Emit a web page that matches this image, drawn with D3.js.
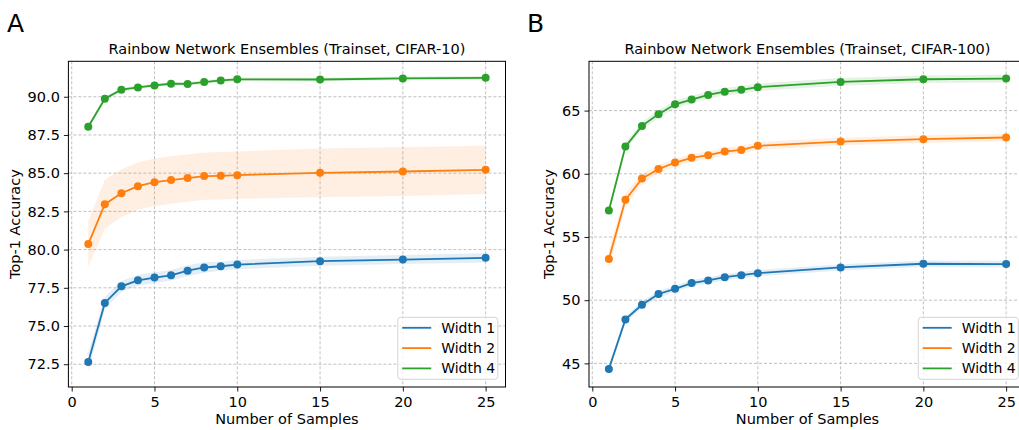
<!DOCTYPE html>
<html>
<head>
<meta charset="utf-8">
<script src="https://cdn.jsdelivr.net/npm/d3@7"></script>
<style>
  body { margin: 0; background: #fff; }
  svg { display: block; font-family: "DejaVu Sans", sans-serif; }
</style>
</head>
<body>
<div class="graph"></div>
<script>
let w = 1019;
let h = 430;

// samples on the x axis
let samples = [1, 2, 3, 4, 5, 6, 7, 8, 9, 10, 15, 20, 25];
let seriesNames = ["Width 1", "Width 2", "Width 4"];
let colors = ["#1f77b4", "#ff7f0e", "#2ca02c"];

// CIFAR-10 means and std
let c10w1 = [72.65, 76.51, 77.6, 77.99, 78.17, 78.32, 78.62, 78.83, 78.91, 79.02, 79.24, 79.35, 79.46];
let c10w2 = [80.36, 82.97, 83.69, 84.15, 84.41, 84.55, 84.68, 84.81, 84.83, 84.87, 85.02, 85.11, 85.22];
let c10w4 = [88.04, 89.87, 90.46, 90.61, 90.74, 90.85, 90.84, 90.96, 91.07, 91.14, 91.13, 91.2, 91.24];
let c10w1sd = [0.6, 0.4, 0.35, 0.35, 0.35, 0.35, 0.35, 0.35, 0.3, 0.3, 0.3, 0.3, 0.3];
let c10w2sd = [1.5, 1.6, 1.55, 1.55, 1.55, 1.55, 1.55, 1.55, 1.55, 1.55, 1.6, 1.6, 1.58];
let c10w4sd = [0.15, 0.15, 0.12, 0.12, 0.12, 0.12, 0.12, 0.12, 0.12, 0.12, 0.12, 0.12, 0.12];

// CIFAR-100 means and std
let c100w1 = [44.56, 48.48, 49.64, 50.49, 50.9, 51.35, 51.56, 51.82, 51.98, 52.14, 52.59, 52.88, 52.86];
let c100w2 = [53.25, 57.94, 59.62, 60.37, 60.89, 61.26, 61.47, 61.76, 61.89, 62.21, 62.55, 62.74, 62.87];
let c100w4 = [57.1, 62.15, 63.79, 64.72, 65.5, 65.87, 66.24, 66.5, 66.64, 66.85, 67.27, 67.48, 67.53];
let c100w1sd = [0.3, 0.25, 0.25, 0.25, 0.25, 0.25, 0.25, 0.25, 0.25, 0.25, 0.25, 0.25, 0.25];
let c100w2sd = [0.8, 0.5, 0.4, 0.35, 0.3, 0.3, 0.3, 0.3, 0.3, 0.3, 0.3, 0.3, 0.3];
let c100w4sd = [0.3, 0.3, 0.3, 0.3, 0.3, 0.3, 0.3, 0.3, 0.3, 0.3, 0.3, 0.3, 0.3];

let xTicks = [0, 5, 10, 15, 20, 25];
let yTicksA = [72.5, 75.0, 77.5, 80.0, 82.5, 85.0, 87.5, 90.0];
let yTicksB = [45, 50, 55, 60, 65];

let panels = [
  {
    letter: "A",
    title: "Rainbow Network Ensembles (Trainset, CIFAR-10)",
    means: [c10w1, c10w2, c10w4],
    sds: [c10w1sd, c10w2sd, c10w4sd],
    yDomain: [71.01, 92.32],
    yTicks: yTicksA,
    yFmt: d3.format(".1f"),
    left: 68.4,
    right: 505.5,
    letterX: 7,
    ylabelX: 15
  },
  {
    letter: "B",
    title: "Rainbow Network Ensembles (Trainset, CIFAR-100)",
    means: [c100w1, c100w2, c100w4],
    sds: [c100w1sd, c100w2sd, c100w4sd],
    yDomain: [43.13, 68.9],
    yTicks: yTicksB,
    yFmt: d3.format("d"),
    left: 589,
    right: 1026,
    letterX: 527,
    ylabelX: 549
  }
];

let plotTop = 61.3;
let plotBottom = 387;
let fs = 14.5;

let svgvar = d3
  .select(".graph")
  .append("svg")
  .attr("width", w)
  .attr("height", h);

svgvar.append("rect").attr("width", w).attr("height", h).attr("fill", "#fff");

panels.forEach(function (p) {
  let xScale = d3.scaleLinear().domain([-0.2, 26.2]).range([p.left, p.right]);
  let yScale = d3.scaleLinear().domain(p.yDomain).range([plotBottom, plotTop]);

  let g = svgvar.append("g");

  // grid
  g.selectAll(".gx")
    .data(xTicks)
    .enter()
    .append("line")
    .attr("x1", (d) => xScale(d))
    .attr("x2", (d) => xScale(d))
    .attr("y1", plotTop)
    .attr("y2", plotBottom)
    .attr("stroke", "#b0b0b0")
    .attr("stroke-width", 0.8)
    .attr("stroke-dasharray", "3,2");
  g.selectAll(".gy")
    .data(p.yTicks)
    .enter()
    .append("line")
    .attr("x1", p.left)
    .attr("x2", p.right)
    .attr("y1", (d) => yScale(d))
    .attr("y2", (d) => yScale(d))
    .attr("stroke", "#b0b0b0")
    .attr("stroke-width", 0.8)
    .attr("stroke-dasharray", "3,2");

  // bands, lines, markers
  p.means.forEach(function (m, i) {
    let rows = samples.map((s, j) => ({ x: s, y: m[j], sd: p.sds[i][j] }));
    let area = d3
      .area()
      .x((d) => xScale(d.x))
      .y0((d) => yScale(d.y - d.sd))
      .y1((d) => yScale(d.y + d.sd));
    g.append("path")
      .datum(rows)
      .attr("d", area)
      .attr("fill", colors[i])
      .attr("fill-opacity", 0.12);
  });
  p.means.forEach(function (m, i) {
    let rows = samples.map((s, j) => ({ x: s, y: m[j] }));
    let line = d3
      .line()
      .x((d) => xScale(d.x))
      .y((d) => yScale(d.y));
    g.append("path")
      .datum(rows)
      .attr("d", line)
      .attr("fill", "none")
      .attr("stroke", colors[i])
      .attr("stroke-width", 1.8);
    g.selectAll(".pt" + i)
      .data(rows)
      .enter()
      .append("circle")
      .attr("cx", (d) => xScale(d.x))
      .attr("cy", (d) => yScale(d.y))
      .attr("r", 4)
      .attr("fill", colors[i]);
  });

  // frame
  g.append("rect")
    .attr("x", p.left)
    .attr("y", plotTop)
    .attr("width", p.right - p.left)
    .attr("height", plotBottom - plotTop)
    .attr("fill", "none")
    .attr("stroke", "#000")
    .attr("stroke-width", 1);

  let xAxis = d3.axisBottom(xScale).tickValues(xTicks).tickSize(4.5).tickPadding(5).tickFormat(d3.format("d"));
  let yAxis = d3.axisLeft(yScale).tickValues(p.yTicks).tickSize(4.5).tickPadding(4).tickFormat(p.yFmt);

  let gx = g.append("g").attr("transform", "translate(0," + plotBottom + ")").call(xAxis);
  let gy = g.append("g").attr("transform", "translate(" + p.left + ",0)").call(yAxis);
  [gx, gy].forEach(function (a) {
    a.select(".domain").remove();
    a.selectAll("text").attr("font-size", fs).attr("font-family", "DejaVu Sans").attr("fill", "#000");
    a.selectAll("line").attr("stroke", "#000").attr("stroke-width", 0.9);
  });

  // texts
  let cx = (p.left + p.right) / 2;
  g.append("text")
    .attr("x", cx)
    .attr("y", 53.5)
    .attr("text-anchor", "middle")
    .attr("font-size", fs)
    .text(p.title);
  g.append("text")
    .attr("x", cx)
    .attr("y", 424)
    .attr("text-anchor", "middle")
    .attr("font-size", fs)
    .text("Number of Samples");
  g.append("text")
    .attr("transform", "translate(" + (p.ylabelX + 5) + "," + (plotTop + plotBottom) / 2 + ") rotate(-90)")
    .attr("text-anchor", "middle")
    .attr("font-size", fs)
    .text("Top-1 Accuracy");
  g.append("text")
    .attr("x", p.letterX)
    .attr("y", 32.3)
    .attr("font-size", 25)
    .text(p.letter);

  // legend
  let lx = p.right - 7.7 - 100;
  let ly = 317.3;
  g.append("rect")
    .attr("x", lx)
    .attr("y", ly)
    .attr("width", 100)
    .attr("height", 62)
    .attr("rx", 3)
    .attr("fill", "#fff")
    .attr("fill-opacity", 0.8)
    .attr("stroke", "#d0d0d0")
    .attr("stroke-width", 0.9);
  seriesNames.forEach(function (s, i) {
    let yy = ly + 10.5 + i * 20.3;
    g.append("line")
      .attr("x1", lx + 4.4)
      .attr("x2", lx + 33.4)
      .attr("y1", yy)
      .attr("y2", yy)
      .attr("stroke", colors[i])
      .attr("stroke-width", 1.8);
    g.append("text")
      .attr("x", lx + 43.4)
      .attr("y", yy + 5)
      .attr("font-size", 14)
      .text(s);
  });
});
</script>
</body>
</html>
